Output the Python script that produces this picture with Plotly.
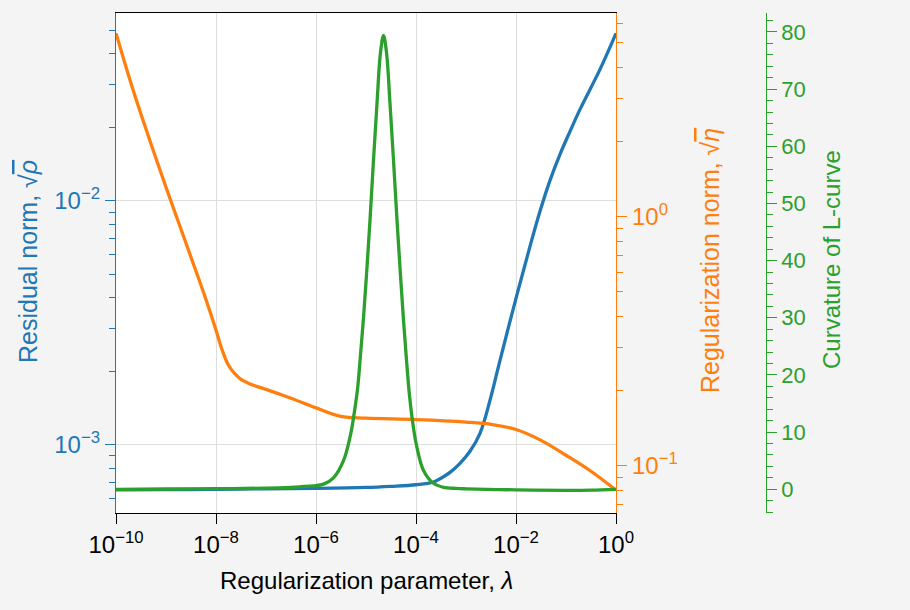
import numpy as np
import plotly.graph_objects as go

BLUE = "#1f77b4"
ORANGE = "#ff7f0e"
GREEN = "#2ca02c"
FONT = "Liberation Sans"

# ---- data (log10 of lambda) ----
log_lam_residual = [-10, -9, -8, -7, -6, -5, -4.5, -4, -3.66, -3.52, -3.32, -3.12, -2.92,
                    -2.72, -2.52, -2.32, -2.0, -1.72, -1.52, -1.32, -1.12, -0.92, -0.72,
                    -0.32, 0]
residual_norm = [6.54e-4, 6.55e-4, 6.57e-4, 6.60e-4, 6.63e-4, 6.69e-4, 6.76e-4, 6.86e-4,
                 7.02e-4, 7.26e-4, 7.71e-4, 8.40e-4, 9.41e-4, 1.115e-3, 1.522e-3, 2.22e-3,
                 3.985e-3, 6.51e-3, 9.06e-3, 1.213e-2, 1.551e-2, 1.926e-2, 2.371e-2,
                 3.459e-2, 4.86e-2]

log_lam_reg = [-10, -9.75, -9.5, -9.25, -9, -8.75, -8.5, -8.25, -8, -7.875, -7.75, -7.625,
               -7.5, -7.25, -7, -6.5, -6, -5.5, -5, -4, -3, -2.5, -2, -1.5, -1, -0.5, 0]
regularization_norm = [5.47, 3.71, 2.585, 1.836, 1.316, 0.952, 0.689, 0.498, 0.351, 0.2915,
                       0.2537, 0.2346, 0.2229, 0.2109, 0.203, 0.187, 0.171, 0.158, 0.1555,
                       0.1535, 0.150, 0.147, 0.140, 0.1267, 0.1104, 0.0952, 0.0799]

log_lam_curv = [-10, -9, -8, -7, -6.5, -6.3, -6.05, -5.85, -5.65, -5.45, -5.31, -5.25, -5.17,
                -5.11, -5.05, -4.99, -4.92, -4.85, -4.78, -4.71, -4.65, -4.59, -4.52, -4.45,
                -4.38, -4.31, -4.25, -4.19, -4.13, -4.05, -3.99, -3.85, -3.65, -3.45, -3.2,
                -3, -2, -1, -0.5, 0]
curvature = [0, 0.05, 0.1, 0.2, 0.35, 0.45, 0.6, 0.9, 2.0, 5.0, 9.5, 12.5, 17.5, 23.5, 30.0,
             37.5, 47.1, 57.6, 67.5, 76.4, 79.4, 76.4, 67.5, 57.6, 47.1, 37.4, 29.6, 22.6,
             16.4, 10.7, 7.7, 3.3, 1.05, 0.35, 0.15, 0.08, -0.1, -0.18, -0.15, 0]

x_tick_vals = [1e-10, 1e-8, 1e-6, 1e-4, 1e-2, 1e0]
x_tick_text = ["10<sup>−10</sup>", "10<sup>−8</sup>", "10<sup>−6</sup>",
               "10<sup>−4</sup>", "10<sup>−2</sup>", "10<sup>0</sup>"]
y1_tick_vals = [1e-3, 1e-2]
y1_tick_text = ["10<sup>−3</sup>", "10<sup>−2</sup>"]
y2_tick_vals = [1e-1, 1e0]
y2_tick_text = ["10<sup>−1</sup>", "10<sup>0</sup>"]

# ---- layout geometry ----
W, H = 910, 610
ML, MR, MT, MB = 116, 10, 13, 97
paper_w = W - ML - MR
plot_w = 500
plot_h = H - MT - MB


def minor_vals(lo, hi):
    out = []
    for e in range(lo, hi + 1):
        for m in range(2, 10):
            out.append(m * 10.0 ** e)
    return out


def px_x(px):
    return (px - ML) / paper_w


def px_y(py):
    return (H - MB - py) / plot_h


fig = go.Figure()
fig.add_trace(go.Scatter(x=np.power(10.0, log_lam_residual), y=residual_norm, mode="lines",
                         line=dict(color=BLUE, width=3.3, shape="spline"), yaxis="y",
                         showlegend=False))
fig.add_trace(go.Scatter(x=np.power(10.0, log_lam_reg), y=regularization_norm, mode="lines",
                         line=dict(color=ORANGE, width=3.3, shape="spline"), yaxis="y2",
                         showlegend=False))
fig.add_trace(go.Scatter(x=np.power(10.0, log_lam_curv), y=curvature, mode="lines",
                         line=dict(color=GREEN, width=3.3, shape="spline"), yaxis="y3",
                         showlegend=False))

common_tick = dict(ticks="outside", ticklen=10, tickwidth=1.3, showline=True, linewidth=1.3,
                   zeroline=False, automargin=False)
GRID = "#dedede"

fig.update_layout(
    width=W, height=H,
    autosize=False,
    showlegend=False,
    margin=dict(l=ML, r=MR, t=MT, b=MB, pad=0, autoexpand=False),
    paper_bgcolor="#f4f4f4",
    plot_bgcolor="white",
    font=dict(family=FONT, size=23, color="black"),
    xaxis=dict(type="log", range=[-10, 0], domain=[0, plot_w / paper_w],
               linecolor="black", mirror=True, tickcolor="black",
               tickmode="array", tickvals=x_tick_vals, ticktext=x_tick_text,
               tickfont=dict(size=24, color="black"),
               showgrid=True, gridcolor=GRID, gridwidth=1.3, **common_tick),
    yaxis=dict(type="log", range=[-3.2795, -1.230], linecolor=BLUE, tickcolor=BLUE,
               tickmode="array", tickvals=y1_tick_vals, ticktext=y1_tick_text,
               tickfont=dict(size=24, color=BLUE),
               showgrid=True, gridcolor=GRID, gridwidth=1.3,
               minor=dict(tickmode="array", tickvals=minor_vals(-4, -2), ticks="outside",
                          ticklen=6, tickwidth=1.3, tickcolor=BLUE, showgrid=False),
               **common_tick),
    yaxis2=dict(type="log", range=[-1.189, 0.819], overlaying="y", side="right", anchor="x",
                linecolor=ORANGE, tickcolor=ORANGE,
                tickmode="array", tickvals=y2_tick_vals, ticktext=y2_tick_text,
                tickfont=dict(size=24, color=ORANGE), showgrid=False,
                minor=dict(tickmode="array", tickvals=minor_vals(-2, 0), ticks="outside",
                           ticklen=6, tickwidth=1.3, tickcolor=ORANGE, showgrid=False),
                **common_tick),
    yaxis3=dict(type="linear", range=[-4.15, 83.32], overlaying="y", side="right",
                anchor="free", position=px_x(765.7),
                linecolor=GREEN, tickcolor=GREEN, tick0=0, dtick=10,
                tickfont=dict(size=22, color=GREEN), showgrid=False,
                minor=dict(dtick=2, tick0=0, ticks="outside", ticklen=6, tickwidth=1.3,
                           tickcolor=GREEN, showgrid=False),
                **common_tick),
    annotations=[
        dict(text="Regularization parameter, <i>λ</i>", x=px_x(366), y=px_y(580),
             xref="paper", yref="paper", showarrow=False, xanchor="center", yanchor="middle",
             font=dict(size=24, color="black")),
        dict(text="Residual norm, √<span style='text-decoration:overline'><i>ρ</i></span>",
             x=px_x(28), y=px_y(262), xref="paper", yref="paper", showarrow=False,
             textangle=-90, xanchor="center", yanchor="middle",
             font=dict(size=25, color=BLUE)),
        dict(text="Regularization norm, √<span style='text-decoration:overline'><i>η</i></span>",
             x=px_x(710), y=px_y(261), xref="paper", yref="paper", showarrow=False,
             textangle=-90, xanchor="center", yanchor="middle",
             font=dict(size=25, color=ORANGE)),
        dict(text="Curvature of L-curve", x=px_x(831), y=px_y(260), xref="paper",
             yref="paper", showarrow=False, textangle=-90, xanchor="center",
             yanchor="middle", font=dict(size=24, color=GREEN)),
    ],
)

fig.write_html("out.html")
